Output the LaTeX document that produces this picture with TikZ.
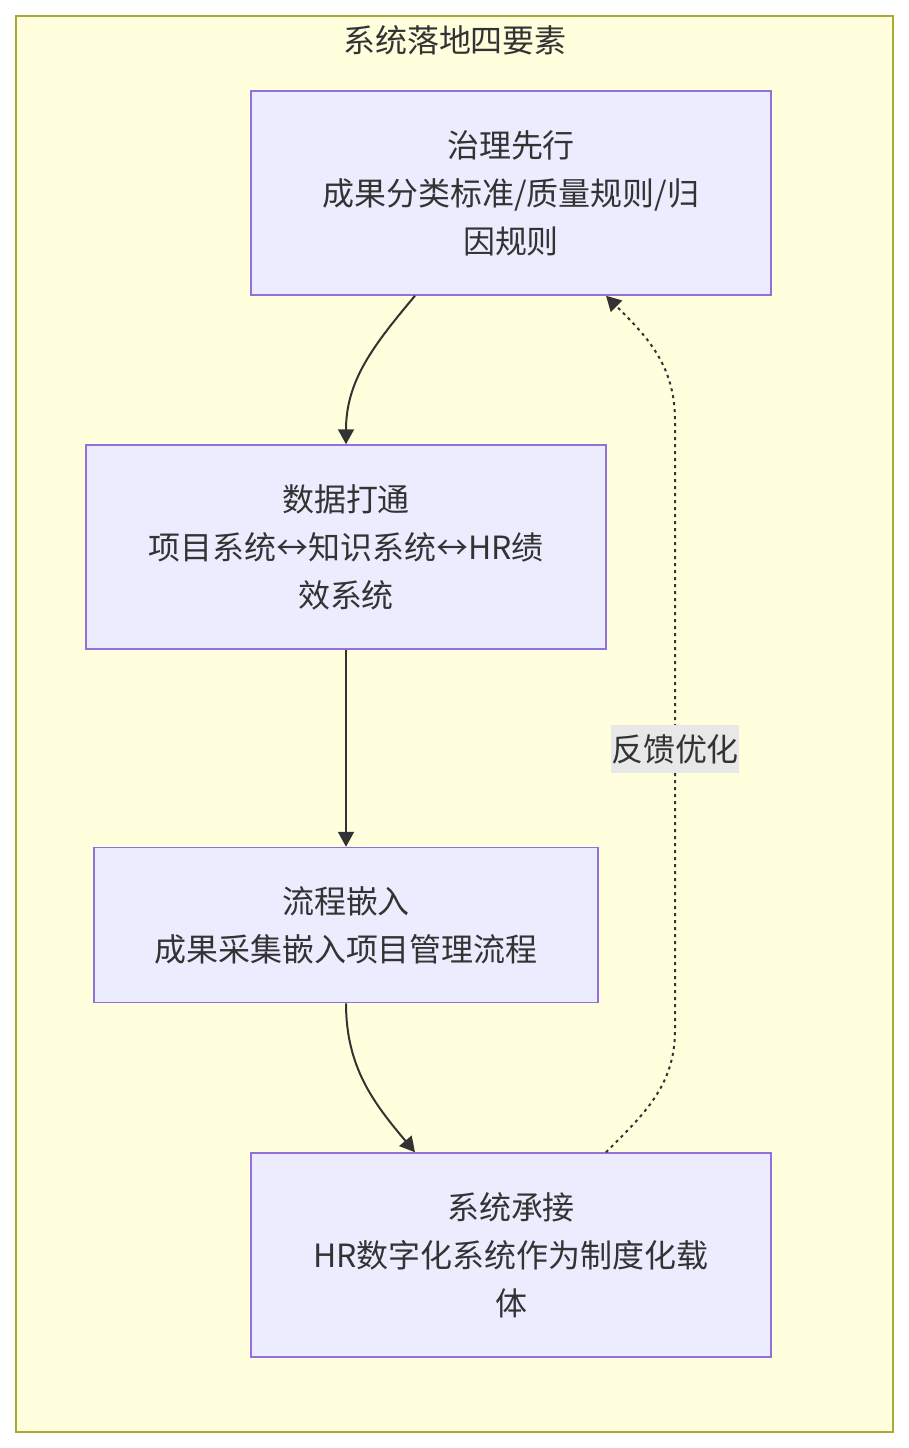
\documentclass[tikz,border=0pt]{standalone}
\usepackage{fontspec}
\setmainfont{Noto Sans CJK SC}
\usetikzlibrary{arrows.meta, positioning}
\definecolor{clusterbg}{HTML}{FFFFDE}
\definecolor{clusterln}{HTML}{AAAA33}
\definecolor{nodebg}{HTML}{ECECFF}
\definecolor{nodeln}{HTML}{9370DB}
\definecolor{ink}{HTML}{333333}
\definecolor{lblbg}{HTML}{E8E8E8}

\begin{document}
\begin{tikzpicture}[x=0.2mm, y=-0.2mm, >={Triangle[length=3mm, width=3.2mm]}]

\tikzset{
  txt/.style={text=ink, font=\fontsize{18.2pt}{27.3pt}\selectfont},
  box/.style={txt, draw=nodeln, fill=nodebg, line width=0.3mm, align=center,
    inner sep=0pt, minimum width=10.4cm, minimum height=4.08cm},
  flow/.style={ink, line width=0.4mm, ->},
  fbk/.style={ink, line width=0.4mm, ->, dash pattern=on 0.6mm off 0.8mm},
  lbl/.style={txt, fill=lblbg, inner sep=0pt, minimum width=2.56cm, minimum height=0.96cm}
}

% Canvas (px units, y downwards)
\useasboundingbox (0,0) rectangle (909,1448);

% Cluster
\draw[clusterln, fill=clusterbg, line width=0.4mm] (16,16) rectangle (893,1432);
\node[txt] (title) at (455,40) {系统落地四要素};

% Steps
\node[box] (gov) at (511,193) {治理先行\\成果分类标准/质量规则/归\\因规则};
\node[box] (data) at (346,547) {数据打通\\项目系统↔知识系统↔HR绩\\效系统};
\node[box, minimum width=10.08cm, minimum height=3.1cm] (proc) at (346,925)
  {流程嵌入\\成果采集嵌入项目管理流程};
\node[box] (sys) at (511,1255) {系统承接\\HR数字化系统作为制度化载\\体};

% Connectors
\draw[flow] ([xshift=-1.92cm]gov.south) to[out=-130, in=90] (data.north);
\draw[flow] (data.south) -- (proc.north);
\draw[flow] (proc.south) to[out=-90, in=130] ([xshift=-1.92cm]sys.north);

% Feedback loop
\draw[fbk] ([xshift=1.9cm]sys.north) to[out=45, in=-90] (675,1030)
  -- node[lbl, pos=0.46] (fb) {反馈优化} (675,420)
  to[out=90, in=-45] ([xshift=1.9cm]gov.south);

\end{tikzpicture}
\end{document}
